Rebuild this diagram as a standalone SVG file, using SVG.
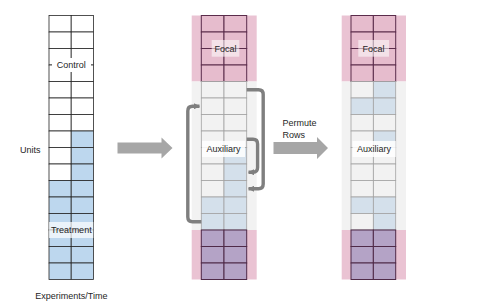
<svg xmlns="http://www.w3.org/2000/svg" width="479" height="305" viewBox="0 0 479 305">
<style>
text{font-family:"Liberation Sans",Arial,sans-serif;font-size:9px;fill:#262626}
.c{text-anchor:middle}
.w{fill:#ffffff;stroke:#262626;stroke-width:0.8}
.b{fill:#bdd7ee;stroke:#262626;stroke-width:0.8}
.a{fill:#f2f2f2;stroke:#a3a3a3;stroke-width:0.8}
.ab{fill:#d4e0eb;stroke:#a3a3a3;stroke-width:0.8}
.f{fill:#e6bccd;stroke:#5b2c4b;stroke-width:1}
.p{fill:#b4a3c6;stroke:#4f2a48;stroke-width:1}
.sp{fill:#eac3d3}
.sg{fill:#f2f2f2}
.br{fill:none;stroke:#7f7f7f;stroke-width:3.4;stroke-linejoin:round}
.big{fill:#a6a6a6}
</style>
<defs>
<marker id="ah" viewBox="0 0 6 6" refX="5.5" refY="3" markerWidth="6" markerHeight="6" markerUnits="userSpaceOnUse" orient="auto">
<path d="M0,0 L6,3 L0,6 z" fill="#7f7f7f"/>
</marker>
</defs>

<!-- Left grid -->
<g id="left-grid">
<g id="left-col-a">
<rect class="w" x="49" y="15.5" width="22.2" height="16.5"/>
<rect class="w" x="49" y="32" width="22.2" height="16.5"/>
<rect class="w" x="49" y="48.5" width="22.2" height="16.5"/>
<rect class="w" x="49" y="65" width="22.2" height="16.5"/>
<rect class="w" x="49" y="81.5" width="22.2" height="16.5"/>
<rect class="w" x="49" y="98" width="22.2" height="16.5"/>
<rect class="w" x="49" y="114.5" width="22.2" height="16.5"/>
<rect class="w" x="49" y="131" width="22.2" height="16.5"/>
<rect class="w" x="49" y="147.5" width="22.2" height="16.5"/>
<rect class="w" x="49" y="164" width="22.2" height="16.5"/>
<rect class="b" x="49" y="180.5" width="22.2" height="16.5"/>
<rect class="b" x="49" y="197" width="22.2" height="16.5"/>
<rect class="b" x="49" y="213.5" width="22.2" height="16.5"/>
<rect class="b" x="49" y="230" width="22.2" height="16.5"/>
<rect class="b" x="49" y="246.5" width="22.2" height="16.5"/>
<rect class="b" x="49" y="263" width="22.2" height="16.5"/>
</g>
<g id="left-col-b">
<rect class="w" x="71.2" y="15.5" width="22.2" height="16.5"/>
<rect class="w" x="71.2" y="32" width="22.2" height="16.5"/>
<rect class="w" x="71.2" y="48.5" width="22.2" height="16.5"/>
<rect class="w" x="71.2" y="65" width="22.2" height="16.5"/>
<rect class="w" x="71.2" y="81.5" width="22.2" height="16.5"/>
<rect class="w" x="71.2" y="98" width="22.2" height="16.5"/>
<rect class="w" x="71.2" y="114.5" width="22.2" height="16.5"/>
<rect class="b" x="71.2" y="131" width="22.2" height="16.5"/>
<rect class="b" x="71.2" y="147.5" width="22.2" height="16.5"/>
<rect class="b" x="71.2" y="164" width="22.2" height="16.5"/>
<rect class="b" x="71.2" y="180.5" width="22.2" height="16.5"/>
<rect class="b" x="71.2" y="197" width="22.2" height="16.5"/>
<rect class="b" x="71.2" y="213.5" width="22.2" height="16.5"/>
<rect class="b" x="71.2" y="230" width="22.2" height="16.5"/>
<rect class="b" x="71.2" y="246.5" width="22.2" height="16.5"/>
<rect class="b" x="71.2" y="263" width="22.2" height="16.5"/>
</g>
<g id="label-control">
<rect x="52" y="58" width="39" height="14" fill="#ffffff"/>
<text class="c" x="71.3" y="68.2">Control</text>
</g>
<g id="label-treatment">
<rect x="49" y="222" width="44.4" height="16" fill="#ffffff" fill-opacity="0.7"/>
<text class="c" x="71.3" y="233.2">Treatment</text>
</g>
<text id="label-units" x="20" y="153">Units</text>
<text id="label-time" class="c" x="71.3" y="299">Experiments/Time</text>
</g>

<!-- Middle grid -->
<g id="middle-grid">
<rect class="sp" x="191.7" y="15.5" width="65" height="66"/>
<rect class="sg" x="191.7" y="81.5" width="65" height="148.5"/>
<rect class="sp" x="191.7" y="230" width="65" height="49.5"/>
<g id="mid-focal">
<rect class="f" x="201.3" y="15.5" width="22.7" height="16.5"/><rect class="f" x="224" y="15.5" width="22.7" height="16.5"/>
<rect class="f" x="201.3" y="32" width="22.7" height="16.5"/><rect class="f" x="224" y="32" width="22.7" height="16.5"/>
<rect class="f" x="201.3" y="48.5" width="22.7" height="16.5"/><rect class="f" x="224" y="48.5" width="22.7" height="16.5"/>
<rect class="f" x="201.3" y="65" width="22.7" height="16.5"/><rect class="f" x="224" y="65" width="22.7" height="16.5"/>
</g>
<g id="mid-aux">
<rect class="a" x="201.3" y="81.5" width="22.7" height="16.5"/><rect class="a" x="224" y="81.5" width="22.7" height="16.5"/>
<rect class="a" x="201.3" y="98" width="22.7" height="16.5"/><rect class="a" x="224" y="98" width="22.7" height="16.5"/>
<rect class="a" x="201.3" y="114.5" width="22.7" height="16.5"/><rect class="a" x="224" y="114.5" width="22.7" height="16.5"/>
<rect class="a" x="201.3" y="131" width="22.7" height="16.5"/><rect class="a" x="224" y="131" width="22.7" height="16.5"/>
<rect class="a" x="201.3" y="147.5" width="22.7" height="16.5"/><rect class="ab" x="224" y="147.5" width="22.7" height="16.5"/>
<rect class="a" x="201.3" y="164" width="22.7" height="16.5"/><rect class="ab" x="224" y="164" width="22.7" height="16.5"/>
<rect class="a" x="201.3" y="180.5" width="22.7" height="16.5"/><rect class="ab" x="224" y="180.5" width="22.7" height="16.5"/>
<rect class="ab" x="201.3" y="197" width="22.7" height="16.5"/><rect class="ab" x="224" y="197" width="22.7" height="16.5"/>
<rect class="ab" x="201.3" y="213.5" width="22.7" height="16.5"/><rect class="ab" x="224" y="213.5" width="22.7" height="16.5"/>
</g>
<g id="mid-bottom">
<rect class="p" x="201.3" y="230" width="22.7" height="16.5"/><rect class="p" x="224" y="230" width="22.7" height="16.5"/>
<rect class="p" x="201.3" y="246.5" width="22.7" height="16.5"/><rect class="p" x="224" y="246.5" width="22.7" height="16.5"/>
<rect class="p" x="201.3" y="263" width="22.7" height="16.5"/><rect class="p" x="224" y="263" width="22.7" height="16.5"/>
</g>
<g id="mid-label-focal">
<rect x="211.7" y="40" width="27.6" height="16.7" fill="#ffffff" fill-opacity="0.55"/>
<text class="c" x="225.5" y="51.5">Focal</text>
</g>
<g id="mid-label-aux">
<rect x="202" y="141" width="43" height="16" fill="#ffffff" fill-opacity="0.85"/>
<text class="c" x="223.5" y="152.3">Auxiliary</text>
</g>
</g>

<!-- Right grid -->
<g id="right-grid">
<rect class="sp" x="341.7" y="15.5" width="64.3" height="66"/>
<rect class="sg" x="341.7" y="81.5" width="64.3" height="148.5"/>
<rect class="sp" x="341.7" y="230" width="64.3" height="49.5"/>
<g id="right-focal">
<rect class="f" x="351" y="15.5" width="22.35" height="16.5"/><rect class="f" x="373.35" y="15.5" width="22.35" height="16.5"/>
<rect class="f" x="351" y="32" width="22.35" height="16.5"/><rect class="f" x="373.35" y="32" width="22.35" height="16.5"/>
<rect class="f" x="351" y="48.5" width="22.35" height="16.5"/><rect class="f" x="373.35" y="48.5" width="22.35" height="16.5"/>
<rect class="f" x="351" y="65" width="22.35" height="16.5"/><rect class="f" x="373.35" y="65" width="22.35" height="16.5"/>
</g>
<g id="right-aux">
<rect class="a" x="351" y="81.5" width="22.35" height="16.5"/><rect class="ab" x="373.35" y="81.5" width="22.35" height="16.5"/>
<rect class="ab" x="351" y="98" width="22.35" height="16.5"/><rect class="ab" x="373.35" y="98" width="22.35" height="16.5"/>
<rect class="a" x="351" y="114.5" width="22.35" height="16.5"/><rect class="a" x="373.35" y="114.5" width="22.35" height="16.5"/>
<rect class="a" x="351" y="131" width="22.35" height="16.5"/><rect class="ab" x="373.35" y="131" width="22.35" height="16.5"/>
<rect class="a" x="351" y="147.5" width="22.35" height="16.5"/><rect class="a" x="373.35" y="147.5" width="22.35" height="16.5"/>
<rect class="a" x="351" y="164" width="22.35" height="16.5"/><rect class="a" x="373.35" y="164" width="22.35" height="16.5"/>
<rect class="a" x="351" y="180.5" width="22.35" height="16.5"/><rect class="a" x="373.35" y="180.5" width="22.35" height="16.5"/>
<rect class="ab" x="351" y="197" width="22.35" height="16.5"/><rect class="ab" x="373.35" y="197" width="22.35" height="16.5"/>
<rect class="a" x="351" y="213.5" width="22.35" height="16.5"/><rect class="ab" x="373.35" y="213.5" width="22.35" height="16.5"/>
</g>
<g id="right-bottom">
<rect class="p" x="351" y="230" width="22.35" height="16.5"/><rect class="p" x="373.35" y="230" width="22.35" height="16.5"/>
<rect class="p" x="351" y="246.5" width="22.35" height="16.5"/><rect class="p" x="373.35" y="246.5" width="22.35" height="16.5"/>
<rect class="p" x="351" y="263" width="22.35" height="16.5"/><rect class="p" x="373.35" y="263" width="22.35" height="16.5"/>
</g>
<g id="right-label-focal">
<rect x="358.3" y="40" width="30.7" height="16.7" fill="#ffffff" fill-opacity="0.55"/>
<text class="c" x="373.6" y="51.5">Focal</text>
</g>
<g id="right-label-aux">
<rect x="352.5" y="141" width="43.2" height="16" fill="#ffffff" fill-opacity="0.85"/>
<text class="c" x="374" y="152.3">Auxiliary</text>
</g>
</g>

<!-- Connectors -->
<g id="connectors">
<path id="arrow-1" class="big" d="M117.5,142.5 H161.5 V137.5 L172.5,148 L161.5,158.5 V153.5 H117.5 Z"/>
<path id="arrow-2" class="big" d="M273.5,142 H317 V137 L328,148 L317,159 V154 H273.5 Z"/>
<text id="label-permute" x="282.5" y="125.5">Permute</text>
<text id="label-rows" x="282.5" y="137.5">Rows</text>
<path id="bracket-left" class="br" d="M201.3,221.75 H192.5 Q187.8,221.75 187.8,217 V111 Q187.8,106.25 192.5,106.25 H199.5" marker-end="url(#ah)"/>
<path id="bracket-outer" class="br" d="M246.7,89.75 H258.5 Q263.2,89.75 263.2,94.5 V184 Q263.2,188.75 258.5,188.75 H248.5" marker-end="url(#ah)"/>
<path id="bracket-inner" class="br" d="M246.7,139.25 H253 Q257.6,139.25 257.6,144 V167.5 Q257.6,172.25 253,172.25 H248.5" marker-end="url(#ah)"/>
</g>
</svg>
